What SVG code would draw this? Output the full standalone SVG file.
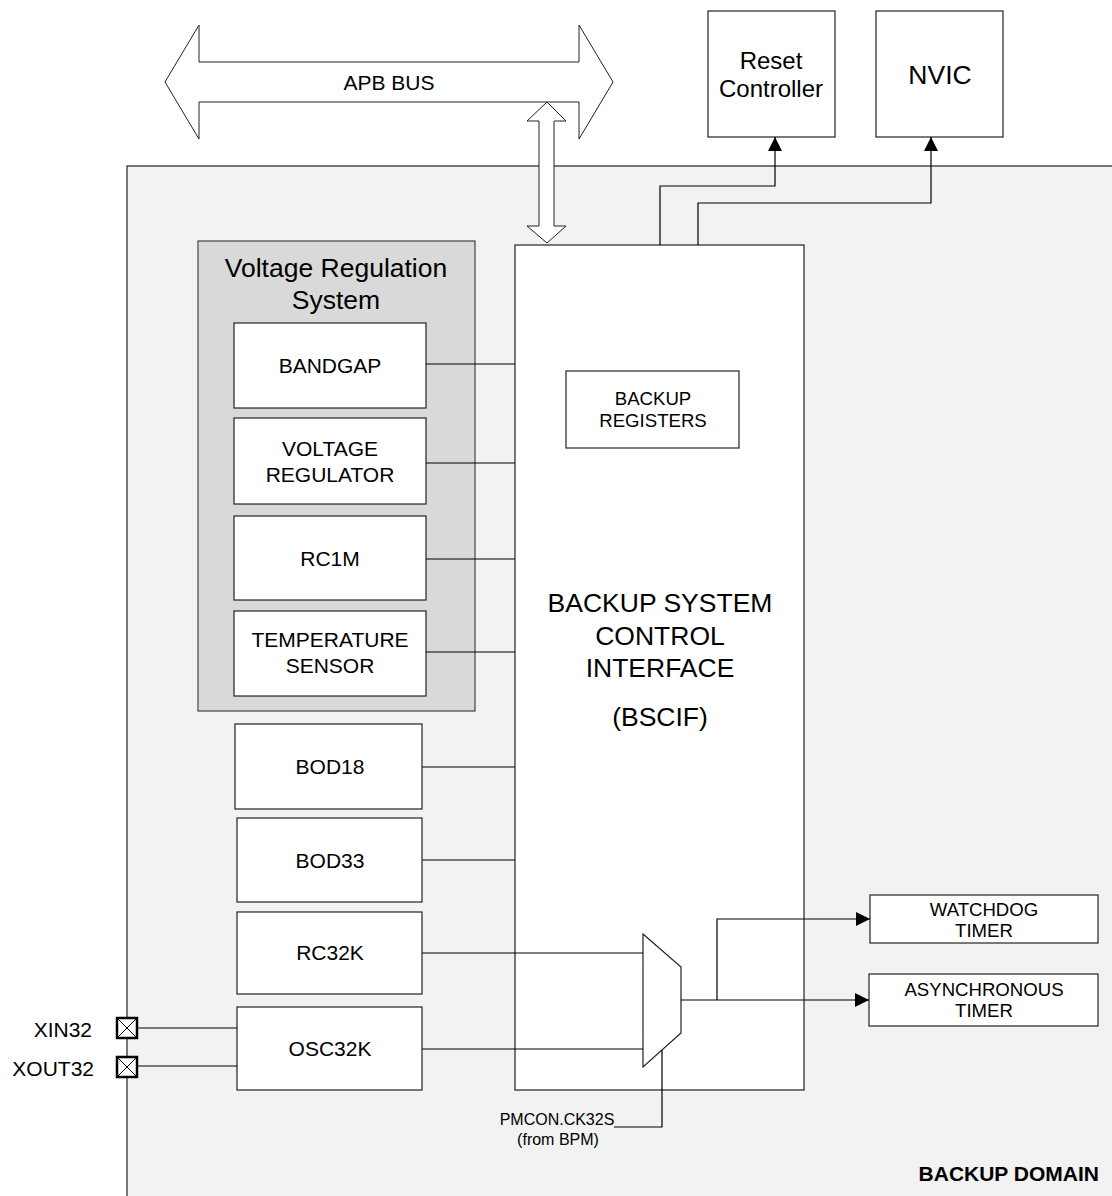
<svg xmlns="http://www.w3.org/2000/svg" width="1112" height="1196" viewBox="0 0 1112 1196">
<defs>
<style>
text{font-family:"Liberation Sans",Arial,sans-serif;fill:#000;text-anchor:middle;dominant-baseline:central}
.box{fill:#fff;stroke:#222;stroke-width:1.2}
.ln{fill:none;stroke:#000;stroke-width:1.2}
.t21{font-size:21px}
.t19{font-size:18.6px}
.t26{font-size:26.5px}
.pin{fill:#fff;stroke:#000;stroke-width:2.5}
</style>
<marker id="ah" viewBox="0 0 10 10" refX="10" refY="5" markerWidth="15" markerHeight="14" markerUnits="userSpaceOnUse" orient="auto">
<path d="M0,0 L10,5 L0,10 Z" fill="#000"/>
</marker>
</defs>
<rect x="0" y="0" width="1112" height="1196" fill="#fff"/>
<g id="backup-domain">
<rect x="127" y="166" width="990" height="1040" fill="#f2f2f2" stroke="#222" stroke-width="1.2"/>
<text x="1099" y="1173" style="font-size:21px;font-weight:bold;text-anchor:end">BACKUP DOMAIN</text>
</g>
<g id="apb-bus">
<path d="M165,82 L199,25 L199,62 L579,62 L579,25 L613,82 L579,139 L579,102 L199,102 L199,139 Z" fill="#fff" stroke="#222" stroke-width="1"/>
<text x="389" y="82" class="t21">APB BUS</text>
</g>
<g id="reset-controller">
<rect class="box" x="708" y="11" width="127" height="126"/>
<text x="771" y="60" style="font-size:24px">Reset</text>
<text x="771" y="88" style="font-size:24px">Controller</text>
</g>
<g id="nvic">
<rect class="box" x="876" y="11" width="127" height="126"/>
<text x="940" y="75" class="t26">NVIC</text>
</g>
<g id="vrs">
<rect x="198" y="241" width="277" height="470" fill="#d9d9d9" stroke="#444" stroke-width="1.2"/>
<text x="336" y="268" class="t26">Voltage Regulation</text>
<text x="336" y="300" class="t26">System</text>
</g>
<g id="bandgap"><rect class="box" x="234" y="323" width="192" height="85"/><text x="330" y="365" class="t21">BANDGAP</text></g>
<g id="voltage-regulator"><rect class="box" x="234" y="418" width="192" height="86"/><text x="330" y="448" class="t21">VOLTAGE</text><text x="330" y="474" class="t21">REGULATOR</text></g>
<g id="rc1m"><rect class="box" x="234" y="516" width="192" height="84"/><text x="330" y="558" class="t21">RC1M</text></g>
<g id="temp-sensor"><rect class="box" x="234" y="611" width="192" height="85"/><text x="330" y="639" class="t21">TEMPERATURE</text><text x="330" y="665" class="t21">SENSOR</text></g>
<g id="bod18"><rect class="box" x="235" y="724" width="187" height="85"/><text x="330" y="766" class="t21">BOD18</text></g>
<g id="bod33"><rect class="box" x="237" y="818" width="185" height="84"/><text x="330" y="860" class="t21">BOD33</text></g>
<g id="rc32k"><rect class="box" x="237" y="912" width="185" height="82"/><text x="330" y="952" class="t21">RC32K</text></g>
<g id="osc32k"><rect class="box" x="237" y="1007" width="185" height="83"/><text x="330" y="1048" class="t21">OSC32K</text></g>
<g id="bscif">
<rect class="box" x="515" y="245" width="289" height="845" stroke="#000"/>
<text x="660" y="603" class="t26">BACKUP SYSTEM</text>
<text x="660" y="636" class="t26">CONTROL</text>
<text x="660" y="668" class="t26">INTERFACE</text>
<text x="660" y="717" class="t26">(BSCIF)</text>
</g>
<g id="backup-registers"><rect class="box" x="566" y="371" width="173" height="77"/><text x="653" y="398" class="t19">BACKUP</text><text x="653" y="420" class="t19">REGISTERS</text></g>
<g id="watchdog"><rect class="box" x="870" y="895" width="228" height="48"/><text x="984" y="909" class="t19">WATCHDOG</text><text x="984" y="930" class="t19">TIMER</text></g>
<g id="async-timer"><rect class="box" x="869" y="974" width="229" height="52"/><text x="984" y="989" class="t19">ASYNCHRONOUS</text><text x="984" y="1010" class="t19">TIMER</text></g>
<g id="xin32"><rect class="pin" x="117" y="1018" width="20" height="20"/><path d="M118,1019 L136,1037 M136,1019 L118,1037" stroke="#000" stroke-width="1"/><text x="92" y="1029" class="t21" style="text-anchor:end">XIN32</text></g>
<g id="xout32"><rect class="pin" x="117" y="1057" width="20" height="20"/><path d="M118,1058 L136,1076 M136,1058 L118,1076" stroke="#000" stroke-width="1"/><text x="94" y="1068" class="t21" style="text-anchor:end">XOUT32</text></g>
<g id="mux"><path d="M643,934 L681,967 L681,1033 L643,1067 Z" fill="#fff" stroke="#222" stroke-width="1.2"/></g>
<g id="select-label">
<text x="557" y="1119" style="font-size:16px">PMCON.CK32S</text>
<text x="558" y="1139" style="font-size:16px">(from BPM)</text>
</g>
<g id="connectors">
<path d="M547,102 L566,121 L554,121 L554,226 L566,226 L547,243 L527,226 L539,226 L539,121 L527,121 Z" fill="#fff" stroke="#222" stroke-width="1"/>
<path class="ln" d="M660,245 L660,186 L775,186 L775,137" marker-end="url(#ah)"/>
<path class="ln" d="M698,245 L698,203 L931,203 L931,137" marker-end="url(#ah)"/>
<path class="ln" d="M426,364 L515,364 M426,463 L515,463 M426,559 L515,559 M426,652 L515,652 M422,767 L515,767 M422,860 L515,860"/>
<path class="ln" d="M422,953 L643,953 M422,1049 L643,1049"/>
<path class="ln" d="M137,1028 L237,1028 M137,1066 L237,1066"/>
<path class="ln" d="M681,1000 L869,1000" marker-end="url(#ah)"/>
<path class="ln" d="M717,1000 L717,919 L870,919" marker-end="url(#ah)"/>
<path class="ln" d="M662,1050 L662,1127 L614,1127"/>
</g>
</svg>
